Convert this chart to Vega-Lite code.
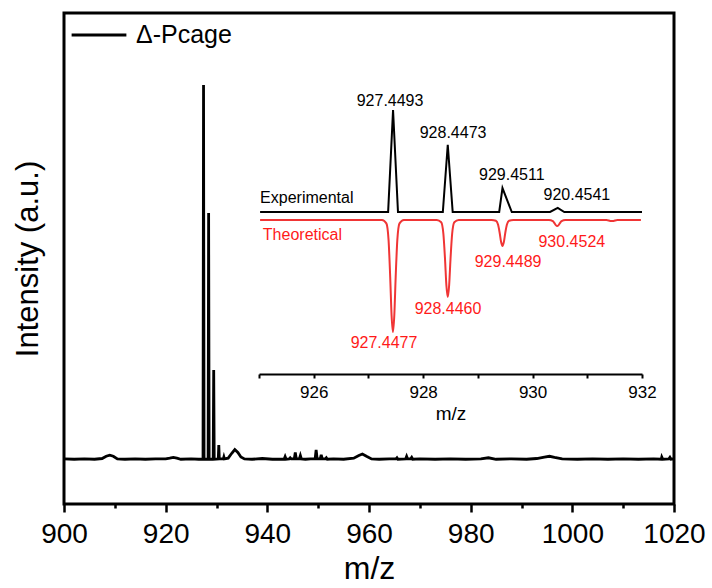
{
  "$schema": "https://vega.github.io/schema/vega-lite/v6.json",
  "width": 610,
  "height": 491,
  "autosize": "none",
  "padding": {"left": 64, "top": 13, "right": 38, "bottom": 84},
  "config": {
    "view": {"stroke": "black", "strokeWidth": 3},
    "font": "Liberation Sans",
    "axis": {"labelFont": "Liberation Sans", "titleFont": "Liberation Sans", "grid": false, "labelColor": "black", "titleColor": "black", "titleFontWeight": "normal", "tickColor": "black", "domainColor": "black"},
    "legend": {"labelFont": "Liberation Sans", "labelColor": "black"}
  },
  "datasets": {
    "spectrum": [
      {"mz": 900, "intensity": 0.3}, {"mz": 902, "intensity": 0.2}, {"mz": 904, "intensity": 0.3}, {"mz": 906, "intensity": 0.2},
      {"mz": 907.5, "intensity": 0.4}, {"mz": 908.3, "intensity": 1.0}, {"mz": 909, "intensity": 1.3}, {"mz": 909.7, "intensity": 1.0},
      {"mz": 910.5, "intensity": 0.3}, {"mz": 912, "intensity": 0.2}, {"mz": 914, "intensity": 0.3}, {"mz": 916, "intensity": 0.2},
      {"mz": 918, "intensity": 0.3}, {"mz": 920, "intensity": 0.3}, {"mz": 920.8, "intensity": 0.5}, {"mz": 921.5, "intensity": 0.7},
      {"mz": 922.2, "intensity": 0.5}, {"mz": 923, "intensity": 0.2}, {"mz": 925, "intensity": 0.3}, {"mz": 926.5, "intensity": 0.2},
      {"mz": 927.35, "intensity": 0.2}, {"mz": 927.45, "intensity": 100}, {"mz": 927.55, "intensity": 0.2},
      {"mz": 928.35, "intensity": 0.2}, {"mz": 928.45, "intensity": 65.9}, {"mz": 928.55, "intensity": 0.2},
      {"mz": 929.35, "intensity": 0.2}, {"mz": 929.45, "intensity": 24}, {"mz": 929.55, "intensity": 0.2},
      {"mz": 930.35, "intensity": 0.3}, {"mz": 930.45, "intensity": 4.0}, {"mz": 930.55, "intensity": 0.3},
      {"mz": 931.35, "intensity": 0.3}, {"mz": 931.45, "intensity": 0.8}, {"mz": 931.55, "intensity": 0.3},
      {"mz": 932.3, "intensity": 0.5}, {"mz": 933, "intensity": 1.8}, {"mz": 933.6, "intensity": 2.8}, {"mz": 934.2, "intensity": 2.0},
      {"mz": 934.8, "intensity": 0.8}, {"mz": 935.5, "intensity": 0.3}, {"mz": 937, "intensity": 0.2}, {"mz": 939, "intensity": 0.4},
      {"mz": 941, "intensity": 0.2}, {"mz": 943.3, "intensity": 0.2}, {"mz": 943.5, "intensity": 0.9}, {"mz": 943.7, "intensity": 0.2},
      {"mz": 944.3, "intensity": 0.3}, {"mz": 944.5, "intensity": 0.6}, {"mz": 944.7, "intensity": 0.3},
      {"mz": 945.3, "intensity": 0.3}, {"mz": 945.5, "intensity": 2.0}, {"mz": 945.7, "intensity": 0.3},
      {"mz": 946.3, "intensity": 0.3}, {"mz": 946.5, "intensity": 1.2}, {"mz": 946.7, "intensity": 0.3},
      {"mz": 947.5, "intensity": 0.2}, {"mz": 948.5, "intensity": 0.3},
      {"mz": 949.4, "intensity": 0.3}, {"mz": 949.6, "intensity": 2.7}, {"mz": 949.8, "intensity": 0.3},
      {"mz": 950.4, "intensity": 0.3}, {"mz": 950.6, "intensity": 1.4}, {"mz": 950.8, "intensity": 0.3},
      {"mz": 951.4, "intensity": 0.3}, {"mz": 951.6, "intensity": 0.6}, {"mz": 951.8, "intensity": 0.2},
      {"mz": 953, "intensity": 0.3}, {"mz": 955, "intensity": 0.2}, {"mz": 957, "intensity": 0.5}, {"mz": 958, "intensity": 1.2},
      {"mz": 958.7, "intensity": 1.6}, {"mz": 959.5, "intensity": 1.0}, {"mz": 960.5, "intensity": 0.3}, {"mz": 962, "intensity": 0.2},
      {"mz": 964, "intensity": 0.3}, {"mz": 965.3, "intensity": 0.3}, {"mz": 965.5, "intensity": 0.6}, {"mz": 965.7, "intensity": 0.2},
      {"mz": 967.2, "intensity": 0.3}, {"mz": 967.4, "intensity": 1.0}, {"mz": 967.6, "intensity": 0.3},
      {"mz": 968.2, "intensity": 0.3}, {"mz": 968.4, "intensity": 0.7}, {"mz": 968.6, "intensity": 0.2},
      {"mz": 970, "intensity": 0.3}, {"mz": 973, "intensity": 0.2}, {"mz": 976, "intensity": 0.3}, {"mz": 979, "intensity": 0.2},
      {"mz": 982, "intensity": 0.3}, {"mz": 983.5, "intensity": 0.6}, {"mz": 985, "intensity": 0.2}, {"mz": 988, "intensity": 0.3},
      {"mz": 991, "intensity": 0.2}, {"mz": 993, "intensity": 0.4}, {"mz": 994.5, "intensity": 0.8}, {"mz": 995.5, "intensity": 1.0},
      {"mz": 996.5, "intensity": 0.7}, {"mz": 998, "intensity": 0.3}, {"mz": 1001, "intensity": 0.2}, {"mz": 1004, "intensity": 0.3},
      {"mz": 1007, "intensity": 0.2}, {"mz": 1010, "intensity": 0.3}, {"mz": 1013, "intensity": 0.2}, {"mz": 1016, "intensity": 0.3},
      {"mz": 1017.5, "intensity": 0.2}, {"mz": 1017.6, "intensity": 0.8}, {"mz": 1017.8, "intensity": 0.2},
      {"mz": 1019, "intensity": 0.3}, {"mz": 1019.2, "intensity": 0.7}, {"mz": 1019.4, "intensity": 0.2}, {"mz": 1020, "intensity": 0.3}
    ],
    "experimental": [
      {"mz": 925.02, "v": 0}, {"mz": 927.36, "v": 0}, {"mz": 927.45, "v": 91}, {"mz": 927.54, "v": 0},
      {"mz": 928.36, "v": 0}, {"mz": 928.45, "v": 60}, {"mz": 928.54, "v": 0},
      {"mz": 929.39, "v": 0}, {"mz": 929.45, "v": 21.4}, {"mz": 929.62, "v": 0},
      {"mz": 930.32, "v": 0}, {"mz": 930.46, "v": 3.6}, {"mz": 930.58, "v": 0}, {"mz": 932, "v": 0}
    ],
    "theoretical": [
      {"mz": 925.02, "v": 0},
      {"mz": 927.248, "v": 0}, {"mz": 927.328, "v": -3}, {"mz": 927.368, "v": -18}, {"mz": 927.398, "v": -51}, {"mz": 927.423, "v": -85},
      {"mz": 927.448, "v": -100}, {"mz": 927.473, "v": -85}, {"mz": 927.498, "v": -51}, {"mz": 927.528, "v": -18}, {"mz": 927.568, "v": -3}, {"mz": 927.648, "v": 0},
      {"mz": 928.25, "v": 0}, {"mz": 928.33, "v": -2}, {"mz": 928.37, "v": -12.4}, {"mz": 928.4, "v": -35}, {"mz": 928.425, "v": -58.5},
      {"mz": 928.45, "v": -68.8}, {"mz": 928.475, "v": -58.5}, {"mz": 928.5, "v": -35}, {"mz": 928.53, "v": -12.4}, {"mz": 928.57, "v": -2}, {"mz": 928.65, "v": 0},
      {"mz": 929.25, "v": 0}, {"mz": 929.33, "v": -0.7}, {"mz": 929.37, "v": -4.2}, {"mz": 929.4, "v": -11.8}, {"mz": 929.425, "v": -19.7},
      {"mz": 929.45, "v": -23.2}, {"mz": 929.475, "v": -19.7}, {"mz": 929.5, "v": -11.8}, {"mz": 929.53, "v": -4.2}, {"mz": 929.57, "v": -0.7}, {"mz": 929.65, "v": 0},
      {"mz": 930.3, "v": 0}, {"mz": 930.37, "v": -1}, {"mz": 930.4, "v": -2.8}, {"mz": 930.425, "v": -4.6}, {"mz": 930.45, "v": -5.4},
      {"mz": 930.475, "v": -4.6}, {"mz": 930.5, "v": -2.8}, {"mz": 930.53, "v": -1}, {"mz": 930.6, "v": 0},
      {"mz": 931.35, "v": 0}, {"mz": 931.42, "v": -0.8}, {"mz": 931.45, "v": -1}, {"mz": 931.48, "v": -0.8}, {"mz": 931.55, "v": 0},
      {"mz": 931.98, "v": 0}
    ],
    "blackLabels": [
      {"mz": 927.395, "v": 103, "label": "927.4493"},
      {"mz": 928.547, "v": 74, "label": "928.4473"},
      {"mz": 929.62, "v": 36.6, "label": "929.4511"},
      {"mz": 930.81, "v": 18.8, "label": "920.4541"}
    ],
    "redLabels": [
      {"mz": 927.285, "v": -113.4, "label": "927.4477"},
      {"mz": 928.455, "v": -83, "label": "928.4460"},
      {"mz": 929.552, "v": -41, "label": "929.4489"},
      {"mz": 930.717, "v": -23, "label": "930.4524"}
    ],
    "expTitle": [{"mz": 925.02, "v": 16, "label": "Experimental"}],
    "theoTitle": [{"mz": 925.07, "v": -17, "label": "Theoretical"}]
  },
  "layer": [
    {
      "data": {"name": "spectrum"},
      "mark": {"type": "line", "strokeWidth": 2.8, "clip": true},
      "encoding": {
        "x": {
          "field": "mz", "type": "quantitative",
          "scale": {"domain": [900, 1020], "nice": false, "zero": false},
          "axis": {
            "title": "m/z", "values": [900, 910, 920, 930, 940, 950, 960, 970, 980, 990, 1000, 1010, 1020],
            "format": "d",
            "labelExpr": "datum.value % 20 == 0 ? datum.label : ''",
            "tickSize": {"condition": {"test": "datum.value % 20 == 0", "value": 8}, "value": 4},
            "tickWidth": 2.5, "domain": false, "labelFontSize": 28, "titleFontSize": 32,
            "labelPadding": 8, "titlePadding": 5, "labelFlush": false, "labelOverlap": false
          }
        },
        "y": {
          "field": "intensity", "type": "quantitative",
          "scale": {"domain": [-11.73, 119.2], "nice": false, "zero": false},
          "axis": {"title": "Intensity (a.u.)", "labels": false, "ticks": false, "domain": false, "titleFontSize": 31, "titlePadding": 20}
        },
        "color": {
          "datum": "Δ-Pcage", "type": "nominal",
          "scale": {"range": ["black"]},
          "legend": {"orient": "none", "legendX": 6, "legendY": -7, "title": null, "symbolType": "stroke", "symbolSize": 3000, "symbolStrokeWidth": 3, "labelFontSize": 25, "labelOffset": 8, "padding": 0}
        }
      }
    },
    {
      "encoding": {
        "x": {
          "field": "mz", "type": "quantitative",
          "scale": {"domain": [925, 932], "range": [195, 578], "nice": false, "zero": false},
          "axis": {
            "orient": "bottom", "offset": -130, "title": "m/z",
            "values": [925, 926, 927, 928, 929, 930, 931, 932], "format": "d",
            "labelExpr": "datum.value % 2 == 0 ? datum.label : ''",
            "labelFontSize": 17, "titleFontSize": 19, "tickSize": 4, "tickWidth": 2, "domainWidth": 2,
            "labelFlush": false, "labelOverlap": false, "labelPadding": 6, "titlePadding": 4
          }
        },
        "y": {
          "field": "v", "type": "quantitative",
          "scale": {"domain": [-100, 100], "range": [315, 91], "nice": false, "zero": false},
          "axis": null
        }
      },
      "layer": [
        {"data": {"name": "experimental"}, "mark": {"type": "line", "color": "black", "strokeWidth": 2, "yOffset": -4}},
        {"data": {"name": "theoretical"}, "mark": {"type": "line", "color": "#f03535", "strokeWidth": 2, "yOffset": 4, "interpolate": "monotone"}},
        {"data": {"name": "blackLabels"}, "mark": {"type": "text", "color": "black", "fontSize": 16, "align": "center", "baseline": "middle"}, "encoding": {"text": {"field": "label"}}},
        {"data": {"name": "redLabels"}, "mark": {"type": "text", "color": "#ff1a1a", "fontSize": 16, "align": "center", "baseline": "middle"}, "encoding": {"text": {"field": "label"}}},
        {"data": {"name": "expTitle"}, "mark": {"type": "text", "color": "black", "fontSize": 16, "align": "left", "baseline": "middle"}, "encoding": {"text": {"field": "label"}}},
        {"data": {"name": "theoTitle"}, "mark": {"type": "text", "color": "#ff1a1a", "fontSize": 16, "align": "left", "baseline": "middle"}, "encoding": {"text": {"field": "label"}}}
      ]
    }
  ],
  "resolve": {"scale": {"x": "independent", "y": "independent"}, "axis": {"x": "independent", "y": "independent"}}
}
